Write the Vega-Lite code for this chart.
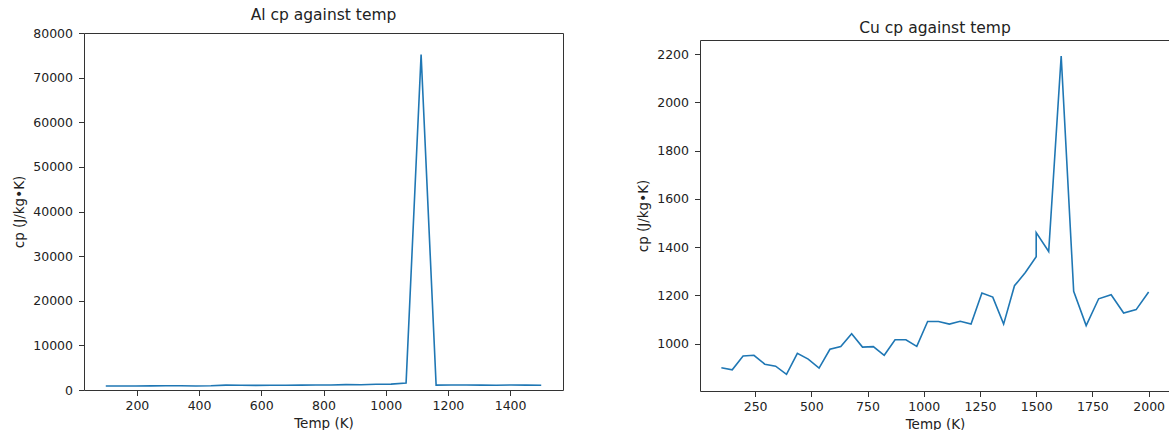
{
  "$schema": "https://vega.github.io/schema/vega-lite/v6.json",
  "background": "white",
  "padding": {"left": 11, "top": 7, "right": 0, "bottom": 0},
  "bounds": "flush",
  "spacing": 137,
  "config": {
    "font": "DejaVu Sans",
    "view": {"stroke": "#333333", "strokeWidth": 1},
    "axis": {"grid": false, "domain": false, "tickColor": "#333333", "tickSize": 5.5, "labelFontSize": 12.5, "labelColor": "#222222", "titleFontSize": 13.5, "titleFontWeight": "normal", "titleColor": "#222222"},
    "axisX": {"labelPadding": 3.5, "titlePadding": 4.5},
    "axisY": {"labelPadding": 6, "titlePadding": 6.5},
    "title": {"fontSize": 15.5, "fontWeight": "normal", "color": "#222222", "offset": 0}
  },
  "datasets": {
    "al": [
      {"i": 0, "temp": 100, "cp": 900},
      {"i": 1, "temp": 148.28, "cp": 905},
      {"i": 2, "temp": 196.55, "cp": 910},
      {"i": 3, "temp": 244.83, "cp": 920},
      {"i": 4, "temp": 293.1, "cp": 960},
      {"i": 5, "temp": 341.38, "cp": 940},
      {"i": 6, "temp": 389.66, "cp": 910},
      {"i": 7, "temp": 437.93, "cp": 950},
      {"i": 8, "temp": 486.21, "cp": 1100},
      {"i": 9, "temp": 534.48, "cp": 1050},
      {"i": 10, "temp": 582.76, "cp": 1040},
      {"i": 11, "temp": 631.03, "cp": 1060},
      {"i": 12, "temp": 679.31, "cp": 1070},
      {"i": 13, "temp": 727.59, "cp": 1100},
      {"i": 14, "temp": 775.86, "cp": 1130},
      {"i": 15, "temp": 824.14, "cp": 1120},
      {"i": 16, "temp": 872.41, "cp": 1200},
      {"i": 17, "temp": 920.69, "cp": 1180},
      {"i": 18, "temp": 968.97, "cp": 1280},
      {"i": 19, "temp": 1017.24, "cp": 1320},
      {"i": 20, "temp": 1065.52, "cp": 1550},
      {"i": 21, "temp": 1113.79, "cp": 75200},
      {"i": 22, "temp": 1162.07, "cp": 1100},
      {"i": 23, "temp": 1210.34, "cp": 1110},
      {"i": 24, "temp": 1258.62, "cp": 1130},
      {"i": 25, "temp": 1306.9, "cp": 1100},
      {"i": 26, "temp": 1355.17, "cp": 1080},
      {"i": 27, "temp": 1403.45, "cp": 1120},
      {"i": 28, "temp": 1451.72, "cp": 1100},
      {"i": 29, "temp": 1500, "cp": 1050}
    ],
    "cu": [
      {"i": 0, "temp": 100, "cp": 900},
      {"i": 1, "temp": 148.28, "cp": 892},
      {"i": 2, "temp": 196.55, "cp": 949},
      {"i": 3, "temp": 244.83, "cp": 952},
      {"i": 4, "temp": 293.1, "cp": 915},
      {"i": 5, "temp": 341.38, "cp": 907},
      {"i": 6, "temp": 389.66, "cp": 873},
      {"i": 7, "temp": 437.93, "cp": 960},
      {"i": 8, "temp": 486.21, "cp": 936},
      {"i": 9, "temp": 534.48, "cp": 899},
      {"i": 10, "temp": 582.76, "cp": 977},
      {"i": 11, "temp": 631.03, "cp": 988},
      {"i": 12, "temp": 679.31, "cp": 1041},
      {"i": 13, "temp": 727.59, "cp": 986},
      {"i": 14, "temp": 775.86, "cp": 988},
      {"i": 15, "temp": 824.14, "cp": 952},
      {"i": 16, "temp": 872.41, "cp": 1016},
      {"i": 17, "temp": 920.69, "cp": 1016},
      {"i": 18, "temp": 968.97, "cp": 989},
      {"i": 19, "temp": 1017.24, "cp": 1092},
      {"i": 20, "temp": 1065.52, "cp": 1092},
      {"i": 21, "temp": 1113.79, "cp": 1081},
      {"i": 22, "temp": 1162.07, "cp": 1093},
      {"i": 23, "temp": 1210.34, "cp": 1081},
      {"i": 24, "temp": 1258.62, "cp": 1210},
      {"i": 25, "temp": 1306.9, "cp": 1193},
      {"i": 26, "temp": 1355.17, "cp": 1081},
      {"i": 27, "temp": 1403.45, "cp": 1240},
      {"i": 28, "temp": 1451.72, "cp": 1295},
      {"i": 29, "temp": 1500, "cp": 1360},
      {"i": 30, "temp": 1500, "cp": 1460},
      {"i": 31, "temp": 1555.56, "cp": 1382},
      {"i": 32, "temp": 1611.11, "cp": 2192},
      {"i": 33, "temp": 1666.67, "cp": 1217},
      {"i": 34, "temp": 1722.22, "cp": 1075},
      {"i": 35, "temp": 1777.78, "cp": 1186},
      {"i": 36, "temp": 1833.33, "cp": 1203},
      {"i": 37, "temp": 1888.89, "cp": 1127},
      {"i": 38, "temp": 1944.44, "cp": 1141},
      {"i": 39, "temp": 2000, "cp": 1214}
    ]
  },
  "hconcat": [
    {
      "title": "Al cp against temp",
      "width": 479,
      "height": 357,
      "data": {"name": "al"},
      "mark": {"type": "line", "color": "#1f77b4", "strokeWidth": 1.6},
      "encoding": {
        "x": {"field": "temp", "type": "quantitative", "scale": {"domain": [30, 1570], "nice": false, "zero": false}, "axis": {"title": "Temp (K)", "values": [200, 400, 600, 800, 1000, 1200, 1400], "format": "d"}},
        "y": {"field": "cp", "type": "quantitative", "scale": {"domain": [0, 80000], "nice": false}, "axis": {"title": "cp (J/kg•K)", "values": [0, 10000, 20000, 30000, 40000, 50000, 60000, 70000, 80000], "format": "d"}},
        "order": {"field": "i", "type": "quantitative"}
      }
    },
    {
      "bounds": "flush",
      "spacing": 6,
      "vconcat": [
        {
          "data": {"values": []},
          "width": 470,
          "height": 1,
          "view": {"stroke": null},
          "mark": "point"
        },
        {
          "title": "Cu cp against temp",
          "width": 470,
          "height": 351,
          "data": {"name": "cu"},
          "mark": {"type": "line", "color": "#1f77b4", "strokeWidth": 1.6},
          "encoding": {
            "x": {"field": "temp", "type": "quantitative", "scale": {"domain": [5, 2095], "nice": false, "zero": false}, "axis": {"title": "Temp (K)", "values": [250, 500, 750, 1000, 1250, 1500, 1750, 2000], "format": "d"}},
            "y": {"field": "cp", "type": "quantitative", "scale": {"domain": [804, 2258], "nice": false, "zero": false}, "axis": {"title": "cp (J/kg•K)", "values": [1000, 1200, 1400, 1600, 1800, 2000, 2200], "format": "d"}},
            "order": {"field": "i", "type": "quantitative"}
          }
        }
      ]
    }
  ]
}
